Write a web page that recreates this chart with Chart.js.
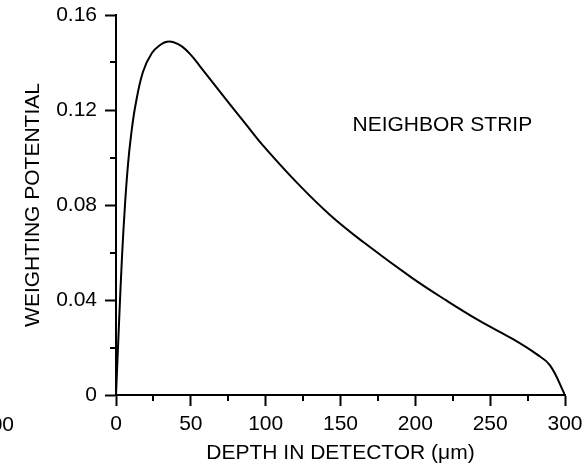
<!DOCTYPE html>
<html>
<head>
<meta charset="utf-8">
<script src="https://cdn.jsdelivr.net/npm/chart.js@4"></script>
<style>
  html, body { margin: 0; padding: 0; background: #fff; }
  canvas { display: block; }
</style>
</head>
<body>
<canvas id="myChart" width="584" height="467"></canvas>
<script>
// depth (um) and weighting potential
var depth = [0, 2, 4, 6, 8, 10, 13, 18, 24, 30, 34, 38, 44, 50, 56, 66, 76, 87, 98, 121, 143, 165, 198, 221, 243, 265, 281, 290, 300];
var potential = [0, 0.030, 0.058, 0.080, 0.097, 0.109, 0.122, 0.136, 0.1440, 0.1476, 0.1487, 0.1486, 0.1468, 0.1432, 0.1385, 0.1305, 0.1225, 0.1138, 0.1052, 0.0893, 0.0758, 0.0645, 0.0492, 0.0397, 0.0312, 0.0236, 0.0172, 0.0125, 0];

var xMinorTicks = [25, 75, 125, 175, 225, 275];
var yMinorTicks = [0.02, 0.06, 0.10, 0.14];

var xTitle = "DEPTH IN DETECTOR (\u03bcm)";
var yTitle = "WEIGHTING POTENTIAL";
var noteText = "NEIGHBOR STRIP";
var notePos = { x: 158, y: 0.1137 };

var font = "Liberation Sans, Arial, sans-serif";

var points = depth.map(function(d, i) { return { x: d, y: potential[i] }; });

// draws the minor ticks, the y title, the note and the clipped neighbour label
var extras = {
	id: "extras",
	afterDraw: function(chart) {
		var c = chart.ctx;
		var xs = chart.scales.x, ys = chart.scales.y;
		var area = chart.chartArea;
		c.save();
		c.strokeStyle = "#000";
		c.lineWidth = 2;
		c.beginPath();
		xMinorTicks.forEach(function(v) {
			var px = Math.round(xs.getPixelForValue(v));
			c.moveTo(px, area.bottom);
			c.lineTo(px, area.bottom + 6);
		});
		yMinorTicks.forEach(function(v) {
			var py = Math.round(ys.getPixelForValue(v));
			c.moveTo(area.left, py);
			c.lineTo(area.left - 6, py);
		});
		c.stroke();

		c.fillStyle = "#000";
		c.font = "21px " + font;
		c.textBaseline = "middle";

		c.textAlign = "left";
		c.fillText(noteText, xs.getPixelForValue(notePos.x), ys.getPixelForValue(notePos.y));

		c.textAlign = "right";
		c.fillText("300", 14, 425);

		c.translate(33, (area.top + area.bottom) / 2);
		c.rotate(-Math.PI / 2);
		c.textAlign = "center";
		c.fillText(yTitle, 0, 0);
		c.restore();
	}
};

var ctx = document.getElementById("myChart").getContext("2d");
var chart = new Chart(ctx, {
	type: "scatter",
	data: {
		datasets: [{
			data: points,
			showLine: true,
			borderColor: "#000",
			borderWidth: 2,
			pointRadius: 0,
			tension: 0.4,
			fill: false
		}]
	},
	options: {
		responsive: false,
		animation: false,
		layout: { padding: { left: 0, right: 19, top: 15, bottom: 0 } },
		plugins: {
			legend: { display: false },
			tooltip: { enabled: false }
		},
		scales: {
			x: {
				type: "linear",
				min: 0,
				max: 300,
				afterFit: function(scale) {
					scale.height = 72;
					scale.paddingLeft = 0;
					scale.paddingRight = 0;
				},
				border: { display: true, color: "#000", width: 2 },
				grid: { drawOnChartArea: false, drawTicks: true, tickLength: 11, tickWidth: 2, tickColor: "#000" },
				ticks: {
					stepSize: 50,
					padding: 6,
					color: "#000",
					maxRotation: 0,
					font: { family: font, size: 21 }
				},
				title: {
					display: true,
					text: xTitle,
					color: "#000",
					padding: { top: 0, bottom: 1 },
					font: { family: font, size: 21 }
				}
			},
			y: {
				type: "linear",
				min: 0,
				max: 0.16,
				afterFit: function(scale) {
					scale.width = 116;
					scale.paddingTop = 0;
					scale.paddingBottom = 0;
				},
				border: { display: true, color: "#000", width: 2 },
				grid: { drawOnChartArea: false, drawTicks: true, tickLength: 11, tickWidth: 2, tickColor: "#000" },
				ticks: {
					stepSize: 0.04,
					padding: 8,
					color: "#000",
					font: { family: font, size: 21 },
					callback: function(v) { return v === 0 ? "0" : v.toFixed(2); }
				}
			}
		}
	},
	plugins: [extras]
});
</script>
</body>
</html>
